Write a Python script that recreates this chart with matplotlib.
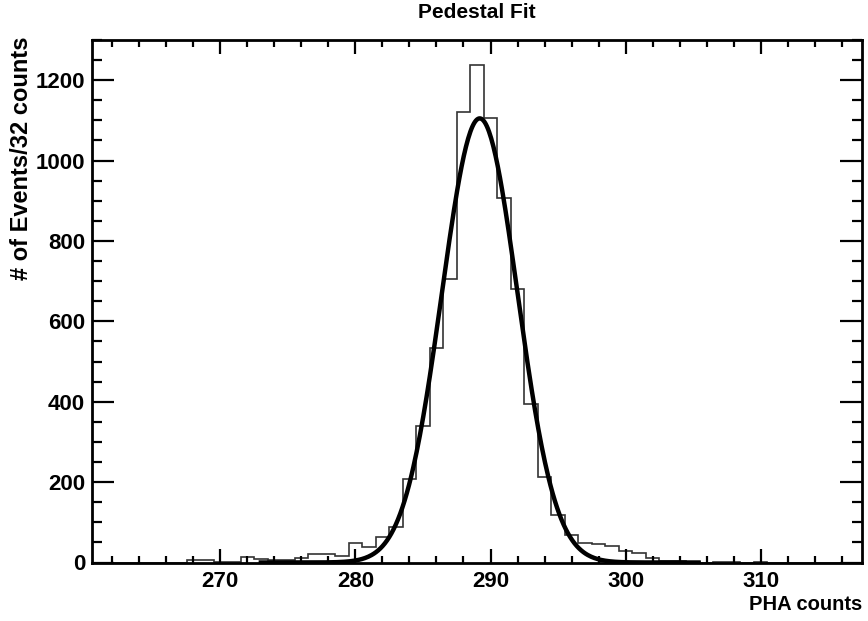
import matplotlib
matplotlib.use("Agg")
import matplotlib.pyplot as plt
from matplotlib.ticker import MultipleLocator
import numpy as np

plt.rcParams['font.family'] = ['Liberation Sans', 'DejaVu Sans']
plt.rcParams['font.weight'] = 'bold'

# histogram: one bin per PHA count, centers 261..317
bin_lo = 260.5
bin_hi = 317.5
counts = [
    0, 0, 0, 0, 0, 0, 0,            # 261-267
    5, 5, 1, 1,                     # 268-271
    13, 8, 5, 5, 12, 20, 20, 17,    # 272-279
    48, 39, 63, 89, 207, 340, 533,  # 280-286
    705, 1121, 1237, 1107, 906,     # 287-291
    680, 394, 213, 118, 69,         # 292-296
    48, 47, 42, 29, 23, 12,         # 297-302
    3, 3, 2, 0, 1, 1, 0, 1,         # 303-310
    0, 0, 0, 0, 0, 0, 0,            # 311-317
]

# gaussian fit parameters
fit_const = 1105
fit_mean = 289.2
fit_sigma = 2.8
fit_lo = 273.0
fit_hi = 305.4

edges = np.arange(bin_lo, bin_hi + 0.5, 1.0)
xf = np.linspace(fit_lo, fit_hi, 400)
yf = fit_const * np.exp(-0.5 * ((xf - fit_mean) / fit_sigma) ** 2)

W, H = 868, 621
fig = plt.figure(figsize=(W / 100, H / 100), dpi=100)
ax = fig.add_axes([92 / W, 1 - 562.5 / H, 770 / W, 522.5 / H])

ax.stairs(counts, edges, color='#333333', linewidth=1.2)
ax.plot(xf, yf, color='black', linewidth=3.2)

ax.set_xlim(bin_lo, bin_hi)
ax.set_ylim(0, 1300)

ax.xaxis.set_major_locator(MultipleLocator(10))
ax.xaxis.set_minor_locator(MultipleLocator(2))
ax.yaxis.set_major_locator(MultipleLocator(200))
ax.yaxis.set_minor_locator(MultipleLocator(50))

ax.tick_params(axis='x', which='major', direction='in', top=True, length=10, width=1.6,
               pad=6, labelsize=16)
ax.tick_params(axis='x', which='minor', direction='in', top=True, length=5, width=1.6)
ax.tick_params(axis='y', which='major', direction='in', right=True, length=16, width=1.6,
               pad=5, labelsize=16)
ax.tick_params(axis='y', which='minor', direction='in', right=True, length=7, width=1.6)
for s in ax.spines.values():
    s.set_linewidth(2.0)

# titles placed in figure pixels, ROOT style
fig.text(477 / W, 1 - 12 / H, "Pedestal Fit", fontsize=15, fontweight='bold',
         ha='center', va='center')
fig.text(862 / W, 1 - 604 / H, "PHA counts", fontsize=14.5, fontweight='bold',
         ha='right', va='center')
fig.text(22 / W, 1 - 36 / H, "# of Events/32 counts", fontsize=17, fontweight='bold',
         rotation=90, ha='center', va='top')

fig.savefig("out.png", dpi=100)
